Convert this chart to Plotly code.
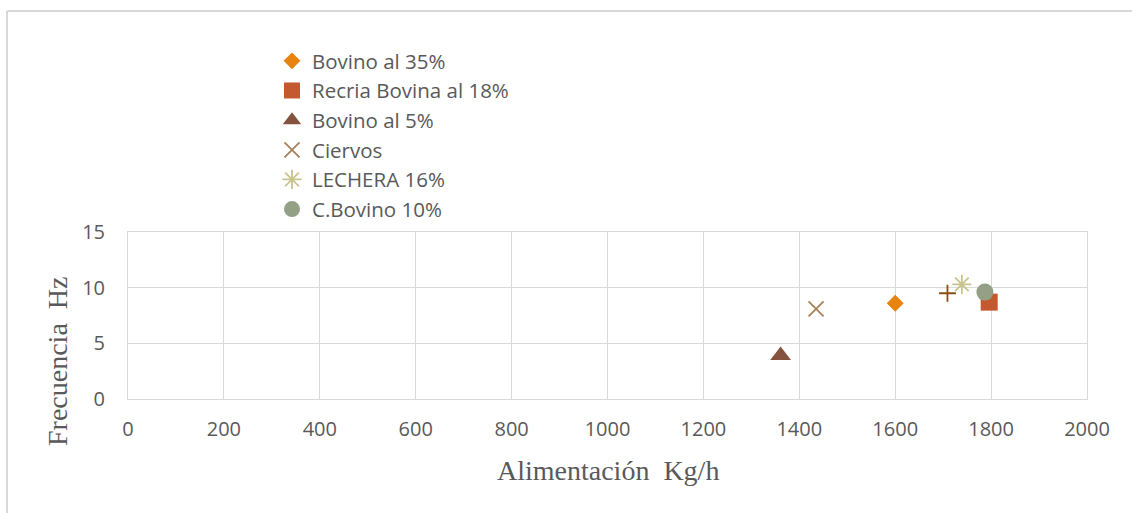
import plotly.graph_objects as go

# Series data: feed rate (Kg/h) vs frequency (Hz)
series_names = ["Bovino al 35%", "Recria Bovina al 18%", "Bovino al 5%",
                "Ciervos", "LECHERA 16%", "C.Bovino 10%", "Otro"]
feed_kg_h = [1600, 1796, 1361, 1435, 1739, 1787, 1709]
freq_hz = [8.6, 8.7, 3.9, 8.1, 10.3, 9.6, 9.5]
show_in_legend = [True, True, True, True, True, True, False]

x_ticks = [0, 200, 400, 600, 800, 1000, 1200, 1400, 1600, 1800, 2000]
y_ticks = [0, 5, 10, 15]

x_title = "Alimentación  Kg/h"
y_title = "Frecuencia  Hz"

# Marker styling per series
symbols = ["diamond", "square", "triangle-up", "x-thin-open",
           "asterisk-open", "circle", "cross-thin-open"]
sizes = [13, 17, 18, 15, 16, 17, 12]
colors = ["#E8830F", "#C4592F", "#85523E", "#A5825A",
          "#C9C38D", "#93A086", "#8A4E14"]

W, H = 1132, 513
L, R, T, B = 128, 1087, 232, 399
pw, ph = R - L, B - T


def px_x(p):
    return (p - L) / pw


def px_y(p):
    return (B - p) / ph


fig = go.Figure()
for i, name in enumerate(series_names):
    thin = symbols[i].endswith("-open")
    fig.add_trace(go.Scatter(
        x=[feed_kg_h[i]], y=[freq_hz[i]], mode="markers", name=name,
        showlegend=show_in_legend[i],
        marker=dict(symbol=symbols[i], size=sizes[i], color=colors[i],
                    line=dict(color=colors[i], width=1.8 if thin else 0)),
    ))

tick_font = dict(family="Open Sans", size=20, color="#595959")
grid = "#d9d9d9"

fig.update_xaxes(range=[0, 2000], tickvals=x_ticks, showgrid=True,
                 gridcolor=grid, gridwidth=1, zeroline=False, showline=True,
                 linecolor=grid, linewidth=1, mirror=True, ticks="",
                 tickfont=tick_font, ticklabelstandoff=12)
fig.update_yaxes(range=[0, 15], tickvals=y_ticks, showgrid=True,
                 gridcolor=grid, gridwidth=1, zeroline=False, showline=True,
                 linecolor=grid, linewidth=1, mirror=True, ticks="",
                 tickfont=tick_font, ticklabelstandoff=18)

title_font = dict(family="Liberation Serif", size=28, color="#595959")
fig.add_annotation(text=x_title, x=px_x(608), y=px_y(470), xref="paper",
                   yref="paper", showarrow=False, font=title_font,
                   xanchor="center", yanchor="middle")
fig.add_annotation(text=y_title, x=px_x(57), y=px_y(362), xref="paper",
                   yref="paper", showarrow=False, font=title_font,
                   textangle=-90, xanchor="center", yanchor="middle")

# Chart frame (left and top edges)
frame = dict(color="#d9d9d9", width=2)
fig.add_shape(type="line", xref="paper", yref="paper",
              x0=px_x(7), x1=px_x(7), y0=px_y(11), y1=px_y(600), line=frame)
fig.add_shape(type="line", xref="paper", yref="paper",
              x0=px_x(7), x1=px_x(1200), y0=px_y(11), y1=px_y(11), line=frame)

fig.update_layout(
    width=W, height=H,
    margin=dict(l=L, r=W - R, t=T, b=H - B, pad=0),
    paper_bgcolor="white", plot_bgcolor="white",
    legend=dict(x=px_x(272), y=px_y(41), xanchor="left", yanchor="top",
                font=dict(family="Open Sans", size=20.5, color="#595959"),
                bgcolor="rgba(0,0,0,0)", tracegroupgap=0, itemwidth=30),
)

fig.write_html("out.html")
